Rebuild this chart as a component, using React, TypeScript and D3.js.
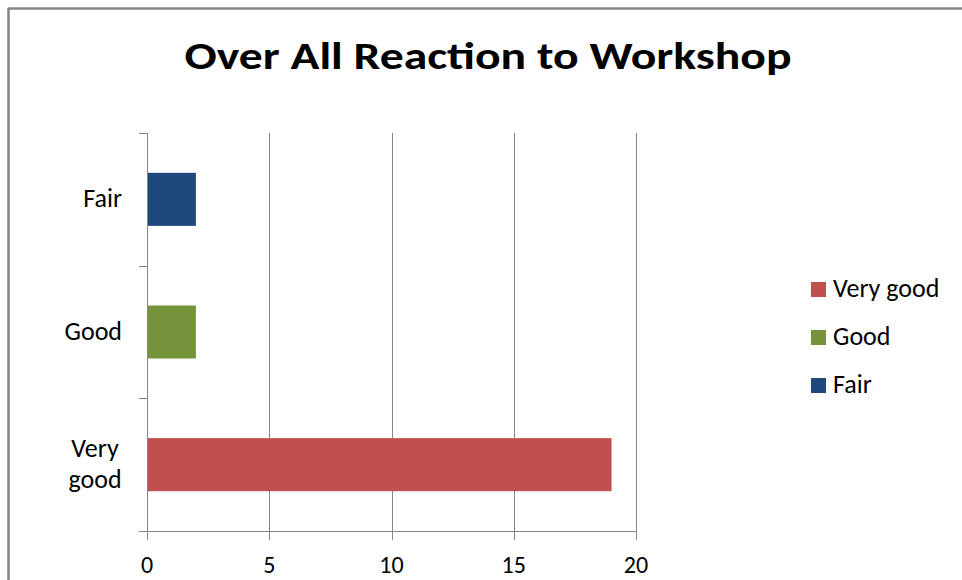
import React from "react";
import * as d3 from "d3";

const categories = ["Very good", "Good", "Fair"];
const values = [19, 2, 2];
const colors = ["#C0504D", "#77933C", "#1F497D"];
const xTicks = [0, 5, 10, 15, 20];
const title = "Over All Reaction to Workshop";

const W = 962;
const H = 580;
const FONT = "Carlito, 'Open Sans', Lato, sans-serif";

export default function App() {
  const left = 147, right = 636, top = 133, bottom = 531;
  const x = d3.scaleLinear().domain([0, 20]).range([left, right]);
  const y = d3.scaleBand().domain(categories).range([bottom, top]).paddingInner(0.6).paddingOuter(0.3);
  const yBand = d3.scaleBand().domain(categories).range([bottom, top]);
  const grey = "#868686";
  const bandEdges = [top, ...categories.map((c) => (yBand(c) as number) + yBand.bandwidth())];
  const uniqueEdges = Array.from(new Set(bandEdges.map((v) => Math.round(v * 10) / 10)));

  return (
    <svg width={W} height={H} style={{ position: "absolute", left: 0, top: 0, background: "#fff" }}>
      <rect x={0} y={0} width={W} height={H} fill="#fff" />
      <line x1={8} y1={8.5} x2={W} y2={8.5} stroke={grey} strokeWidth={2.5} />
      <line x1={8.5} y1={8} x2={8.5} y2={H} stroke={grey} strokeWidth={2.5} />
      <text x={488} y={69} textAnchor="middle" fontFamily={FONT} fontWeight="bold" fontSize={38} fill="#000"
        textLength={607} lengthAdjust="spacingAndGlyphs">
        {title}
      </text>
      {xTicks.slice(1).map((t) => (
        <line key={"g" + t} x1={Math.round(x(t)) + 0.5} x2={Math.round(x(t)) + 0.5} y1={top} y2={bottom + 9} stroke={grey} strokeWidth={1} />
      ))}
      <line x1={left - 8} x2={right} y1={bottom + 0.5} y2={bottom + 0.5} stroke={grey} />
      <line x1={left + 0.5} x2={left + 0.5} y1={top} y2={bottom + 9} stroke={grey} />
      {uniqueEdges.map((e) => (
        <line key={"t" + e} x1={left - 8} x2={left} y1={Math.round(e) + 0.5} y2={Math.round(e) + 0.5} stroke={grey} />
      ))}
      {xTicks.map((t) => (
        <text key={"xl" + t} x={x(t)} y={573} textAnchor="middle" fontFamily={FONT} fontSize={24} fill="#000">
          {t}
        </text>
      ))}
      {categories.map((c, i) => (
        <rect key={c} x={x(0) + 1} y={y(c)} width={x(values[i]) - x(0) - 1} height={y.bandwidth()} fill={colors[i]} />
      ))}
      {categories.map((c) => {
        const cy = (yBand(c) as number) + yBand.bandwidth() / 2;
        const words = c.split(" ");
        if (words.length > 1) {
          return (
            <text key={"yl" + c} x={95} textAnchor="middle" fontFamily={FONT} fontSize={26} fill="#000">
              {words.map((w, k) => (
                <tspan key={k} x={95} y={cy - 8 + k * 31.5}>{w}</tspan>
              ))}
            </text>
          );
        }
        return (
          <text key={"yl" + c} x={122} y={cy + 8} textAnchor="end" fontFamily={FONT} fontSize={26} fill="#000">
            {c}
          </text>
        );
      })}
      {categories.map((c, i) => (
        <g key={"lg" + c} transform={`translate(811, ${282 + i * 48})`}>
          <rect x={0} y={0} width={15} height={15} fill={colors[i]} />
          <text x={22} y={15} fontFamily={FONT} fontSize={26} fill="#000">{c}</text>
        </g>
      ))}
    </svg>
  );
}
